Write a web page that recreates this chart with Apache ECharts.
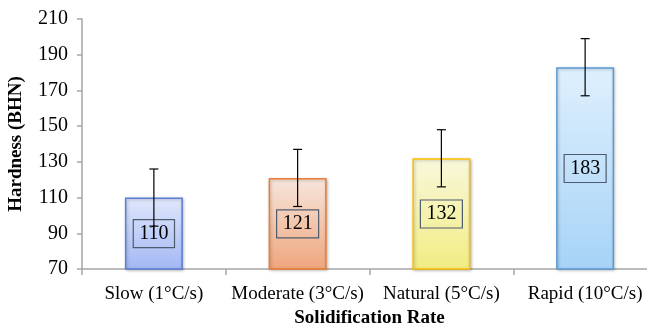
<!DOCTYPE html>
<html><head><meta charset="utf-8">
<script src="https://cdn.jsdelivr.net/npm/echarts@6/dist/echarts.min.js"></script>
<style>html,body{margin:0;padding:0;background:#fff}#c{width:647px;height:326px}</style>
</head><body><div id="c"></div>
<script>
const categories = ['Slow (1°C/s)', 'Moderate (3°C/s)', 'Natural (5°C/s)', 'Rapid (10°C/s)'];
const hardness = [110, 121, 132, 183];
const errors = [16, 16, 16, 16];
const yTicks = {min: 70, max: 210, interval: 20};

const barStyles = [
  {top: '#dfe7fb', bottom: '#a3b7f4', border: '#5a7fd6'},
  {top: '#f6e6dc', bottom: '#efa57c', border: '#ed7d31'},
  {top: '#f8f8dc', bottom: '#f1ec82', border: '#ffc000'},
  {top: '#dff0fd', bottom: '#a6d3f7', border: '#5b9bd5'}
];
const font = '"Liberation Serif", "Times New Roman", serif';

const chart = echarts.init(document.getElementById('c'), null, {renderer: 'canvas'});
chart.setOption({
  animation: false,
  grid: {left: 82, top: 19, bottom: 57, width: 575, containLabel: false, outerBoundsMode: 'none'},
  xAxis: {
    type: 'category', data: categories,
    name: 'Solidification Rate', nameLocation: 'middle', nameGap: 40,
    nameTextStyle: {fontFamily: font, fontSize: 19, fontWeight: 'bold', color: '#000'},
    axisLine: {lineStyle: {color: '#a6a6a6', width: 1.5}},
    axisTick: {show: true, length: 6, lineStyle: {color: '#a6a6a6', width: 1.5}},
    axisLabel: {interval: 0, fontFamily: font, fontSize: 19, color: '#000', margin: 16}
  },
  yAxis: {
    type: 'value', min: yTicks.min, max: yTicks.max, interval: yTicks.interval,
    name: 'Hardness (BHN)', nameLocation: 'middle', nameGap: 56,
    nameTextStyle: {fontFamily: font, fontSize: 19, fontWeight: 'bold', color: '#000'},
    axisLine: {show: true, lineStyle: {color: '#a6a6a6', width: 1.5}},
    axisTick: {show: true, length: 5, lineStyle: {color: '#a6a6a6', width: 1.5}},
    axisLabel: {fontFamily: font, fontSize: 20, color: '#000', margin: 14},
    splitLine: {show: false}
  },
  series: [
    {
      type: 'bar', barWidth: 58, z: 2,
      data: hardness.map((v, i) => ({
        value: v,
        itemStyle: {
          color: new echarts.graphic.LinearGradient(0, 0, 0, 1, [
            {offset: 0, color: barStyles[i].top},
            {offset: 1, color: barStyles[i].bottom}
          ]),
          borderColor: barStyles[i].border, borderWidth: 1.5,
          shadowColor: 'rgba(0,0,0,0.25)', shadowBlur: 3, shadowOffsetX: 1, shadowOffsetY: 1
        }
      })),
      label: {
        show: true, position: 'inside', fontFamily: font, fontSize: 20, color: '#000',
        borderColor: '#4f5b6e', borderWidth: 1.2, padding: [5, 6, 3, 6]
      }
    },
    {
      type: 'custom', z: 5,
      data: hardness.map((v, i) => [i, v, errors[i]]),
      renderItem: function (params, api) {
        const x = api.value(0), y = api.value(1), e = api.value(2);
        const hi = api.coord([x, y + e]);
        const lo = api.coord([x, y - e]);
        const hw = 4.5;
        const style = {stroke: '#000', lineWidth: 1.2};
        return {type: 'group', children: [
          {type: 'line', shape: {x1: hi[0], y1: hi[1], x2: lo[0], y2: lo[1]}, style: style},
          {type: 'line', shape: {x1: hi[0] - hw, y1: hi[1], x2: hi[0] + hw, y2: hi[1]}, style: style},
          {type: 'line', shape: {x1: lo[0] - hw, y1: lo[1], x2: lo[0] + hw, y2: lo[1]}, style: style}
        ]};
      }
    }
  ]
});
</script></body></html>
